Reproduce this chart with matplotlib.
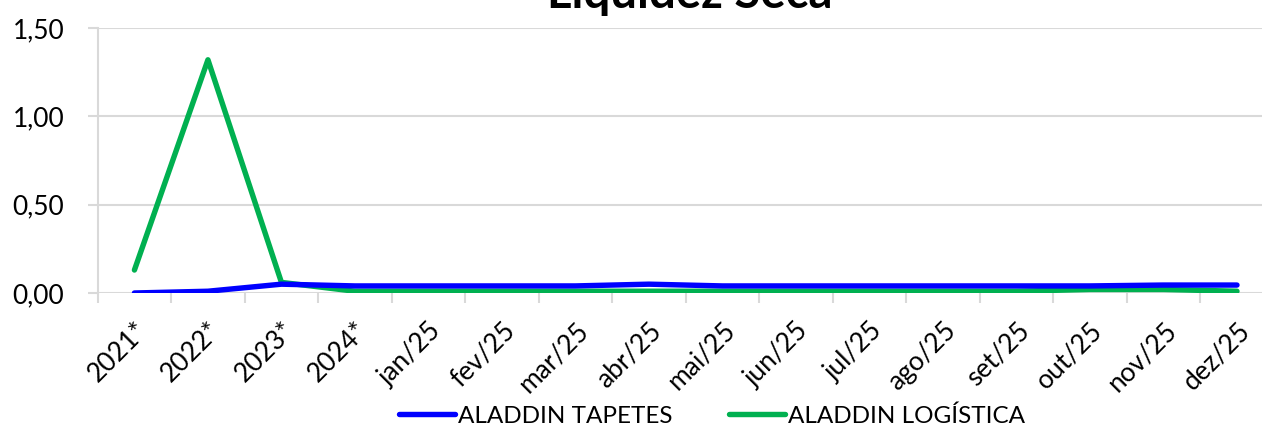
import matplotlib
matplotlib.use("Agg")
import matplotlib.pyplot as plt
from matplotlib.ticker import FuncFormatter

plt.rcParams['font.family'] = ['Lato', 'DejaVu Sans']

categories = ["2021*", "2022*", "2023*", "2024*", "jan/25", "fev/25", "mar/25", "abr/25",
              "mai/25", "jun/25", "jul/25", "ago/25", "set/25", "out/25", "nov/25", "dez/25"]
tapetes = [0.00, 0.01, 0.05, 0.04, 0.04, 0.04, 0.04, 0.05, 0.04, 0.04, 0.04, 0.04, 0.04, 0.04, 0.045, 0.045]
logistica = [0.13, 1.32, 0.06, 0.01, 0.01, 0.01, 0.01, 0.01, 0.01, 0.01, 0.01, 0.01, 0.01, 0.02, 0.02, 0.01]
yticks = [0.0, 0.5, 1.0, 1.5]

fig = plt.figure(figsize=(12.62, 4.30), dpi=100)
ax = fig.add_axes([0.0774, 0.3186, 0.9319, 0.6163])

x = list(range(len(categories)))
ax.plot(x, tapetes, color="#0000FF", lw=3.9, solid_capstyle="round", label="ALADDIN TAPETES", zorder=3)
ax.plot(x, logistica, color="#00B050", lw=3.9, solid_capstyle="round", label="ALADDIN LOGÍSTICA", zorder=2)

ax.set_xlim(-0.5, len(categories) - 0.5)
ax.set_ylim(0, 1.5)
ax.set_yticks(yticks)
ax.yaxis.set_major_formatter(FuncFormatter(lambda v, p: f"{v:.2f}".replace(".", ",")))
ax.grid(axis="y", color="#d9d9d9", lw=1.5)
ax.set_axisbelow(True)
for s in ["top", "right", "bottom"]:
    ax.spines[s].set_visible(False)
ax.spines["left"].set_color("#d9d9d9")
ax.spines["left"].set_linewidth(1.5)

ax.set_xticks([i - 0.5 for i in range(len(categories) + 1)], minor=False)
ax.set_xticklabels([])
ax.tick_params(axis="x", which="major", length=7, width=1.5, color="#d9d9d9")
ax.set_xticks(x, minor=True)
ax.set_xticklabels(categories, minor=True, rotation=45, ha="right", rotation_mode="anchor", fontsize=19)
ax.tick_params(axis="x", which="minor", length=0, pad=18)
ax.tick_params(axis="y", length=7, width=1.5, color="#d9d9d9", labelsize=19, pad=17)

fig.text(690 / 1262, 1 - 8 / 430, "Liquidez Seca", ha="center", va="baseline",
         fontsize=34, fontweight="bold")

fig.legend(loc="center", bbox_to_anchor=(712 / 1262, 1 - 416 / 430), ncol=2, frameon=False,
           fontsize=17.5, handlelength=2.3, handletextpad=0.15, columnspacing=2.3)

fig.savefig("out.png", dpi=100)
